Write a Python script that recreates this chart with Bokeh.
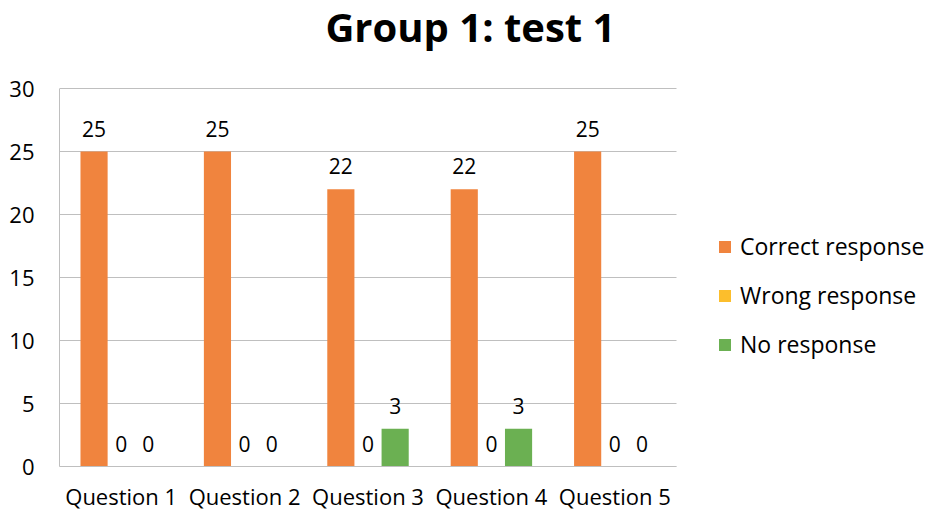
from bokeh.plotting import figure
from bokeh.models import (Range1d, FixedTicker, Legend, LegendItem,
                          Label, ColumnDataSource)
from bokeh.core.properties import value
from bokeh.embed import file_html
from bokeh.resources import INLINE

questions = ["Question 1", "Question 2", "Question 3", "Question 4", "Question 5"]
correct = [25, 25, 22, 22, 25]
wrong = [0, 0, 0, 0, 0]
no_resp = [0, 0, 3, 3, 0]
series_names = ["Correct response", "Wrong response", "No response"]
series_colors = ["#F0843E", "#FCBE2C", "#6BB052"]
y_ticks = [0, 5, 10, 15, 20, 25, 30]
y_max = 30
title_text = "Group 1: test 1"

FONT = "Open Sans"
GRID = "#BFBFBF"

n = len(questions)
centers = [i + 0.5 for i in range(n)]

# frame covers the whole area right of the y axis and above the x axis,
# so the title and legend can be drawn inside it
p = figure(x_range=Range1d(0, n * 872 / 617),
           y_range=Range1d(0, y_max * 466 / 378),
           width=931, height=513, output_backend="svg", toolbar_location=None,
           min_border_left=59, min_border_right=0, min_border_top=0,
           min_border_bottom=47)
p.title = None
p.outline_line_color = None
p.xgrid.grid_line_color = None
p.ygrid.grid_line_color = None

# horizontal gridlines only across the category area
p.segment(x0=[0] * len(y_ticks), x1=[n] * len(y_ticks), y0=y_ticks, y1=y_ticks,
          line_color=GRID, line_width=1, level="underlay")

p.add_layout(Label(x=3.33, y=34.95, text=title_text, text_align="center",
                   text_baseline="middle", text_font=FONT, text_font_size="40px",
                   text_font_style="bold", text_color="#000000"))

offsets = [-0.22, 0.0, 0.22]
values_all = [correct, wrong, no_resp]
items = []
for name, color, vals, off in zip(series_names, series_colors, values_all, offsets):
    src = ColumnDataSource(dict(x=[c + off for c in centers], v=vals,
                                t=[str(v) for v in vals]))
    r = p.vbar(x="x", top="v", width=0.22, source=src,
               fill_color=color, line_color=None)
    p.text(x="x", y="v", text="t", source=src,
           text_align="center", text_baseline="alphabetic", y_offset=-23,
           text_font=value(FONT), text_font_size="21px", text_color="#000000")
    items.append(LegendItem(label=name, renderers=[r]))

legend = Legend(items=items, location=(658, 106), orientation="vertical",
                glyph_width=15, glyph_height=15, label_standoff=8,
                label_text_font=FONT, label_text_font_size="23px",
                label_text_color="#000000", spacing=17, padding=10,
                border_line_color=None, background_fill_alpha=0)
p.add_layout(legend, "center")

p.yaxis.ticker = FixedTicker(ticks=y_ticks)
p.yaxis.bounds = (0, y_max)
p.yaxis.axis_line_color = GRID
p.yaxis.major_tick_line_color = None
p.yaxis.minor_tick_line_color = None
p.yaxis.major_tick_out = 0
p.yaxis.major_label_standoff = 25
p.yaxis.major_label_text_font = FONT
p.yaxis.major_label_text_font_size = "22px"
p.yaxis.major_label_text_color = "#000000"

p.xaxis.ticker = FixedTicker(ticks=centers)
p.xaxis.major_label_overrides = {c: q for c, q in zip(centers, questions)}
p.xaxis.bounds = (0, n)
p.xaxis.axis_line_color = GRID
p.xaxis.major_tick_line_color = None
p.xaxis.minor_tick_line_color = None
p.xaxis.major_tick_out = 0
p.xaxis.major_label_standoff = 14
p.xaxis.major_label_text_font = FONT
p.xaxis.major_label_text_font_size = "22px"
p.xaxis.major_label_text_color = "#000000"

open("out.html", "w").write(file_html(p, INLINE))
